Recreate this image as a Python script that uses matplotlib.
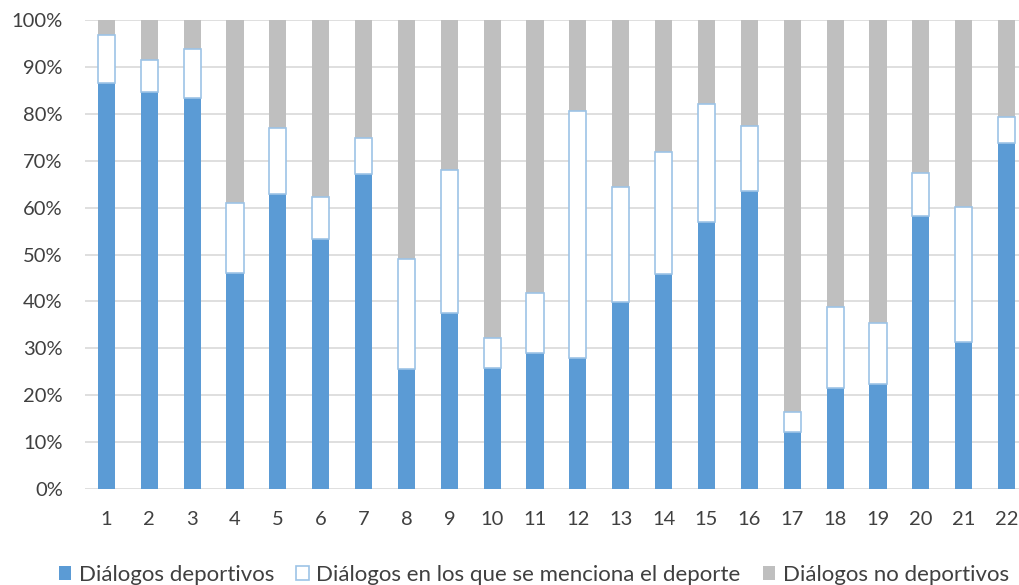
import numpy as np
import matplotlib
matplotlib.use("Agg")
import matplotlib.pyplot as plt
from matplotlib.ticker import PercentFormatter

plt.rcParams['font.family'] = ['Lato', 'DejaVu Sans']

# Porcentajes acumulados por diálogo
dialogos = [str(i) for i in range(1, 23)]
deportivos = [86.5, 84.7, 83.4, 46.0, 62.8, 53.2, 67.1, 25.5, 37.6, 25.9, 29.1,
              27.9, 39.8, 45.8, 56.9, 63.5, 12.2, 21.5, 22.3, 58.2, 31.4, 73.8]
menciona = [10.4, 6.8, 10.4, 15.0, 14.1, 9.1, 7.7, 23.5, 30.4, 6.4, 12.6,
            52.8, 24.5, 26.0, 25.1, 13.8, 4.3, 17.4, 13.0, 9.1, 28.8, 5.5]
no_deportivos = [100 - a - b for a, b in zip(deportivos, menciona)]

AZUL, AZUL_CLARO, GRIS = "#5B9BD5", "#9DC3E6", "#BFBFBF"

fig = plt.figure(figsize=(10.19, 5.85), dpi=100)
ax = fig.add_axes([0.0834, 0.1641, 0.9254, 0.8017])

x = np.arange(len(dialogos))
ancho = 0.4
dep = np.array(deportivos)
men = np.array(menciona)
nodep = np.array(no_deportivos)

ax.bar(x, dep, ancho, color=AZUL, label="Diálogos deportivos", zorder=3)
ax.bar(x, men, ancho, bottom=dep, color="white", edgecolor=AZUL_CLARO, lw=1.2,
       label="Diálogos en los que se menciona el deporte", zorder=3)
ax.bar(x, nodep, ancho, bottom=dep + men, color=GRIS,
       label="Diálogos no deportivos", zorder=2)

ax.set_xlim(-0.5, len(dialogos) - 0.5)
ax.set_ylim(0, 100)
ax.set_yticks(np.arange(0, 101, 10))
ax.yaxis.set_major_formatter(PercentFormatter(decimals=0))
ax.set_xticks(x)
ax.set_xticklabels(dialogos)
ax.tick_params(axis="both", length=0, labelsize=14.5, colors="#404040")
ax.tick_params(axis="x", pad=16)
ax.tick_params(axis="y", pad=16)
ax.grid(axis="y", color="#D9D9D9", lw=1.2, zorder=0)
for s in ax.spines.values():
    s.set_visible(False)

fig.legend(loc="lower center", bbox_to_anchor=(0.524, -0.034), ncol=3, frameon=False,
           fontsize=16, handlelength=0.55, handleheight=0.55, handletextpad=0.35,
           columnspacing=1.0, labelcolor="#404040")

fig.savefig("out.png", dpi=100)
